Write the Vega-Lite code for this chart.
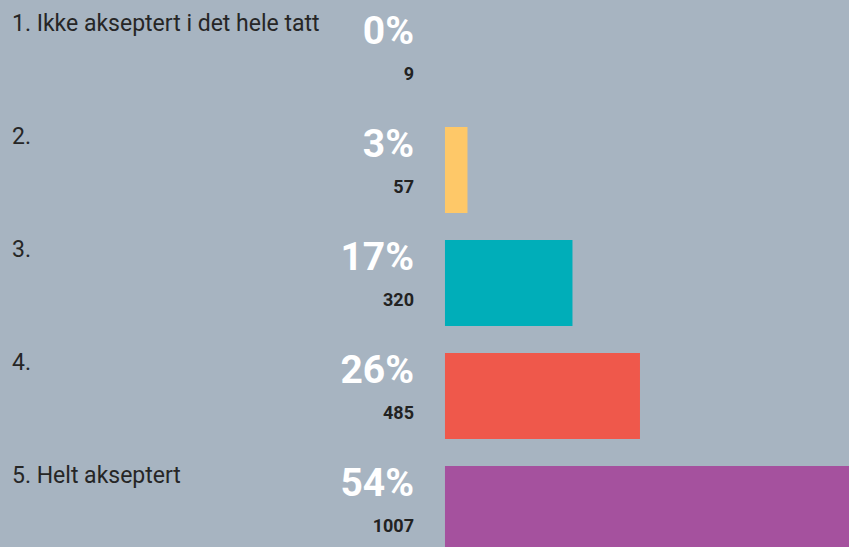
{
  "$schema": "https://vega.github.io/schema/vega-lite/v6.json",
  "width": 849,
  "height": 547,
  "autosize": {"type": "fit", "contains": "padding"},
  "padding": 0,
  "background": "#a7b4c1",
  "config": {"view": {"stroke": null}, "font": "Roboto"},
  "data": {
    "values": [
      {"label": "1. Ikke akseptert i det hele tatt", "pct": 0, "pctText": "0%", "count": 9},
      {"label": "2.", "pct": 3, "pctText": "3%", "count": 57},
      {"label": "3.", "pct": 17, "pctText": "17%", "count": 320},
      {"label": "4.", "pct": 26, "pctText": "26%", "count": 485},
      {"label": "5. Helt akseptert", "pct": 54, "pctText": "54%", "count": 1007}
    ]
  },
  "encoding": {
    "y": {
      "field": "label",
      "type": "nominal",
      "axis": null,
      "scale": {
        "domain": ["1. Ikke akseptert i det hele tatt", "2.", "3.", "4.", "5. Helt akseptert"],
        "range": [0, 566],
        "paddingInner": 0.239,
        "paddingOuter": 0.124
      }
    }
  },
  "layer": [
    {
      "mark": {"type": "bar", "clip": true},
      "encoding": {
        "x": {"field": "pct", "type": "quantitative", "axis": null, "scale": {"domain": [-59.33, 53.87], "nice": false, "zero": false}},
        "color": {
          "field": "label",
          "type": "nominal",
          "legend": null,
          "scale": {
            "domain": ["1. Ikke akseptert i det hele tatt", "2.", "3.", "4.", "5. Helt akseptert"],
            "range": ["#4a90d9", "#fec868", "#00aeb9", "#ef584b", "#a5519e"]
          }
        }
      }
    },
    {
      "mark": {"type": "text", "align": "left", "baseline": "alphabetic", "yOffset": -26, "fontSize": 23, "fontWeight": "normal", "color": "#262626"},
      "encoding": {
        "x": {"datum": -57.73, "type": "quantitative"},
        "text": {"field": "label"}
      }
    },
    {
      "mark": {"type": "text", "align": "right", "baseline": "alphabetic", "yOffset": -13, "fontSize": 39, "fontWeight": "bold", "color": "#ffffff"},
      "encoding": {
        "x": {"datum": -4.13, "type": "quantitative"},
        "text": {"field": "pctText"}
      }
    },
    {
      "mark": {"type": "text", "align": "right", "baseline": "alphabetic", "yOffset": 23, "fontSize": 18, "fontWeight": "bold", "color": "#222222"},
      "encoding": {
        "x": {"datum": -4.13, "type": "quantitative"},
        "text": {"field": "count"}
      }
    }
  ]
}
